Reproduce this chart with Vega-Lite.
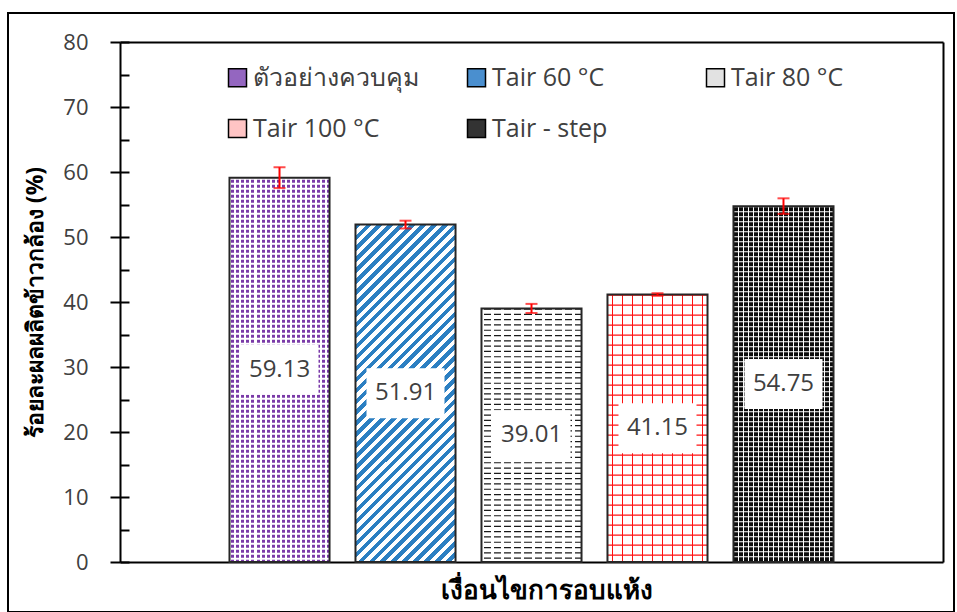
{
  "$schema": "https://vega.github.io/schema/vega-lite/v6.json",
  "width": 946,
  "height": 599,
  "autosize": {"type": "none"},
  "padding": {"left": 8, "top": 13, "right": 3, "bottom": 0},
  "background": "#ffffff",
  "config": {
    "view": {"stroke": "#000000", "strokeWidth": 2},
    "font": "Open Sans"
  },
  "data": {
    "values": [
      {"cat": "ตัวอย่างควบคุม", "v": 59.13, "e": 1.6},
      {"cat": "Tair 60 °C", "v": 51.91, "e": 0.6},
      {"cat": "Tair 80 °C", "v": 39.01, "e": 0.7},
      {"cat": "Tair 100 °C", "v": 41.15, "e": 0.2},
      {"cat": "Tair - step", "v": 54.75, "e": 1.2}
    ]
  },
  "resolve": {"scale": {"x": "independent", "y": "independent"}},
  "layer": [
    {
      "resolve": {"scale": {"fill": "independent"}},
      "encoding": {
        "x": {
          "field": "cat", "type": "nominal",
          "scale": {"domain": ["ตัวอย่างควบคุม", "Tair 60 °C", "Tair 80 °C", "Tair 100 °C", "Tair - step"], "range": [112, 935], "paddingInner": 0.206, "paddingOuter": 0.869},
          "axis": {"orient": "bottom", "offset": -50, "domain": true, "domainColor": "#000000", "domainWidth": 2, "ticks": false, "labels": false, "grid": false,
                   "title": "เงื่อนไขการอบแห้ง", "titleFontSize": 26, "titleFontWeight": "bold", "titleColor": "#000000", "titlePadding": 15, "titleX": 538}
        },
        "y": {
          "field": "v", "type": "quantitative",
          "scale": {"domain": [0, 80], "range": [549, 29]},
          "axis": {"orient": "left", "offset": -112, "values": [0, 10, 20, 30, 40, 50, 60, 70, 80],
                   "domain": true, "domainColor": "#000000", "domainWidth": 2,
                   "ticks": true, "tickSize": 10, "tickColor": "#000000", "tickWidth": 2,
                   "labelFontSize": 22, "labelColor": "#404040", "labelPadding": 22, "grid": false,
                   "title": "ร้อยละผลผลิตข้าวกล้อง (%)", "titleFontSize": 23, "titleFontWeight": "bold", "titleColor": "#000000", "titlePadding": 15}
        }
      },
      "layer": [
        {
          "mark": {"type": "bar"},
          "encoding": {
            "fill": {
              "field": "cat", "type": "nominal",
              "scale": {"domain": ["ตัวอย่างควบคุม", "Tair 60 °C", "Tair 80 °C", "Tair 100 °C", "Tair - step"], "range": ["#9466c0", "#4a8fcf", "#e2e2e2", "#ffc4c4", "#333333"]},
              "legend": {"orient": "none", "legendX": 217, "legendY": 52, "direction": "horizontal", "columns": 3, "title": null,
                         "symbolType": "square", "symbolSize": 324, "symbolStrokeColor": "#000000", "symbolStrokeWidth": 1.5, "symbolOpacity": 1,
                         "labelFontSize": 25, "labelColor": "#404040", "labelLimit": 400, "labelOffset": 3,
                         "columnPadding": 45, "rowPadding": 25, "gridAlign": "all", "padding": 0}
            }
          }
        },
        {
          "mark": {"type": "bar"},
          "encoding": {
            "fill": {
              "field": "cat", "type": "nominal",
              "scale": {"domain": ["ตัวอย่างควบคุม", "Tair 60 °C", "Tair 80 °C", "Tair 100 °C", "Tair - step"], "range": ["#7a3aa8", "#ffffff", "#ffffff", "#ffffff", "#0d0d0d"]},
              "legend": null
            }
          }
        },
        {
          "transform": [{"filter": {"field": "cat", "equal": "Tair 60 °C"}}],
          "mark": {"type": "bar", "fill": {"gradient": "linear", "x1": 0, "y1": 0, "x2": 0.3532, "y2": 1.1917, "stops": [
            {"offset": 0, "color": "#2b7fc2"}, {"offset": 0.0125, "color": "#2b7fc2"}, {"offset": 0.0125, "color": "#ffffff"}, {"offset": 0.025, "color": "#ffffff"},
            {"offset": 0.025, "color": "#2b7fc2"}, {"offset": 0.0375, "color": "#2b7fc2"}, {"offset": 0.0375, "color": "#ffffff"}, {"offset": 0.05, "color": "#ffffff"},
            {"offset": 0.05, "color": "#2b7fc2"}, {"offset": 0.0625, "color": "#2b7fc2"}, {"offset": 0.0625, "color": "#ffffff"}, {"offset": 0.075, "color": "#ffffff"},
            {"offset": 0.075, "color": "#2b7fc2"}, {"offset": 0.0875, "color": "#2b7fc2"}, {"offset": 0.0875, "color": "#ffffff"}, {"offset": 0.1, "color": "#ffffff"},
            {"offset": 0.1, "color": "#2b7fc2"}, {"offset": 0.1125, "color": "#2b7fc2"}, {"offset": 0.1125, "color": "#ffffff"}, {"offset": 0.125, "color": "#ffffff"},
            {"offset": 0.125, "color": "#2b7fc2"}, {"offset": 0.1375, "color": "#2b7fc2"}, {"offset": 0.1375, "color": "#ffffff"}, {"offset": 0.15, "color": "#ffffff"},
            {"offset": 0.15, "color": "#2b7fc2"}, {"offset": 0.1625, "color": "#2b7fc2"}, {"offset": 0.1625, "color": "#ffffff"}, {"offset": 0.175, "color": "#ffffff"},
            {"offset": 0.175, "color": "#2b7fc2"}, {"offset": 0.1875, "color": "#2b7fc2"}, {"offset": 0.1875, "color": "#ffffff"}, {"offset": 0.2, "color": "#ffffff"},
            {"offset": 0.2, "color": "#2b7fc2"}, {"offset": 0.2125, "color": "#2b7fc2"}, {"offset": 0.2125, "color": "#ffffff"}, {"offset": 0.225, "color": "#ffffff"},
            {"offset": 0.225, "color": "#2b7fc2"}, {"offset": 0.2375, "color": "#2b7fc2"}, {"offset": 0.2375, "color": "#ffffff"}, {"offset": 0.25, "color": "#ffffff"},
            {"offset": 0.25, "color": "#2b7fc2"}, {"offset": 0.2625, "color": "#2b7fc2"}, {"offset": 0.2625, "color": "#ffffff"}, {"offset": 0.275, "color": "#ffffff"},
            {"offset": 0.275, "color": "#2b7fc2"}, {"offset": 0.2875, "color": "#2b7fc2"}, {"offset": 0.2875, "color": "#ffffff"}, {"offset": 0.3, "color": "#ffffff"},
            {"offset": 0.3, "color": "#2b7fc2"}, {"offset": 0.3125, "color": "#2b7fc2"}, {"offset": 0.3125, "color": "#ffffff"}, {"offset": 0.325, "color": "#ffffff"},
            {"offset": 0.325, "color": "#2b7fc2"}, {"offset": 0.3375, "color": "#2b7fc2"}, {"offset": 0.3375, "color": "#ffffff"}, {"offset": 0.35, "color": "#ffffff"},
            {"offset": 0.35, "color": "#2b7fc2"}, {"offset": 0.3625, "color": "#2b7fc2"}, {"offset": 0.3625, "color": "#ffffff"}, {"offset": 0.375, "color": "#ffffff"},
            {"offset": 0.375, "color": "#2b7fc2"}, {"offset": 0.3875, "color": "#2b7fc2"}, {"offset": 0.3875, "color": "#ffffff"}, {"offset": 0.4, "color": "#ffffff"},
            {"offset": 0.4, "color": "#2b7fc2"}, {"offset": 0.4125, "color": "#2b7fc2"}, {"offset": 0.4125, "color": "#ffffff"}, {"offset": 0.425, "color": "#ffffff"},
            {"offset": 0.425, "color": "#2b7fc2"}, {"offset": 0.4375, "color": "#2b7fc2"}, {"offset": 0.4375, "color": "#ffffff"}, {"offset": 0.45, "color": "#ffffff"},
            {"offset": 0.45, "color": "#2b7fc2"}, {"offset": 0.4625, "color": "#2b7fc2"}, {"offset": 0.4625, "color": "#ffffff"}, {"offset": 0.475, "color": "#ffffff"},
            {"offset": 0.475, "color": "#2b7fc2"}, {"offset": 0.4875, "color": "#2b7fc2"}, {"offset": 0.4875, "color": "#ffffff"}, {"offset": 0.5, "color": "#ffffff"},
            {"offset": 0.5, "color": "#2b7fc2"}, {"offset": 0.5125, "color": "#2b7fc2"}, {"offset": 0.5125, "color": "#ffffff"}, {"offset": 0.525, "color": "#ffffff"},
            {"offset": 0.525, "color": "#2b7fc2"}, {"offset": 0.5375, "color": "#2b7fc2"}, {"offset": 0.5375, "color": "#ffffff"}, {"offset": 0.55, "color": "#ffffff"},
            {"offset": 0.55, "color": "#2b7fc2"}, {"offset": 0.5625, "color": "#2b7fc2"}, {"offset": 0.5625, "color": "#ffffff"}, {"offset": 0.575, "color": "#ffffff"},
            {"offset": 0.575, "color": "#2b7fc2"}, {"offset": 0.5875, "color": "#2b7fc2"}, {"offset": 0.5875, "color": "#ffffff"}, {"offset": 0.6, "color": "#ffffff"},
            {"offset": 0.6, "color": "#2b7fc2"}, {"offset": 0.6125, "color": "#2b7fc2"}, {"offset": 0.6125, "color": "#ffffff"}, {"offset": 0.625, "color": "#ffffff"},
            {"offset": 0.625, "color": "#2b7fc2"}, {"offset": 0.6375, "color": "#2b7fc2"}, {"offset": 0.6375, "color": "#ffffff"}, {"offset": 0.65, "color": "#ffffff"},
            {"offset": 0.65, "color": "#2b7fc2"}, {"offset": 0.6625, "color": "#2b7fc2"}, {"offset": 0.6625, "color": "#ffffff"}, {"offset": 0.675, "color": "#ffffff"},
            {"offset": 0.675, "color": "#2b7fc2"}, {"offset": 0.6875, "color": "#2b7fc2"}, {"offset": 0.6875, "color": "#ffffff"}, {"offset": 0.7, "color": "#ffffff"},
            {"offset": 0.7, "color": "#2b7fc2"}, {"offset": 0.7125, "color": "#2b7fc2"}, {"offset": 0.7125, "color": "#ffffff"}, {"offset": 0.725, "color": "#ffffff"},
            {"offset": 0.725, "color": "#2b7fc2"}, {"offset": 0.7375, "color": "#2b7fc2"}, {"offset": 0.7375, "color": "#ffffff"}, {"offset": 0.75, "color": "#ffffff"},
            {"offset": 0.75, "color": "#2b7fc2"}, {"offset": 0.7625, "color": "#2b7fc2"}, {"offset": 0.7625, "color": "#ffffff"}, {"offset": 0.775, "color": "#ffffff"},
            {"offset": 0.775, "color": "#2b7fc2"}, {"offset": 0.7875, "color": "#2b7fc2"}, {"offset": 0.7875, "color": "#ffffff"}, {"offset": 0.8, "color": "#ffffff"},
            {"offset": 0.8, "color": "#2b7fc2"}, {"offset": 0.8125, "color": "#2b7fc2"}, {"offset": 0.8125, "color": "#ffffff"}, {"offset": 0.825, "color": "#ffffff"},
            {"offset": 0.825, "color": "#2b7fc2"}, {"offset": 0.8375, "color": "#2b7fc2"}, {"offset": 0.8375, "color": "#ffffff"}, {"offset": 0.85, "color": "#ffffff"},
            {"offset": 0.85, "color": "#2b7fc2"}, {"offset": 0.8625, "color": "#2b7fc2"}, {"offset": 0.8625, "color": "#ffffff"}, {"offset": 0.875, "color": "#ffffff"},
            {"offset": 0.875, "color": "#2b7fc2"}, {"offset": 0.8875, "color": "#2b7fc2"}, {"offset": 0.8875, "color": "#ffffff"}, {"offset": 0.9, "color": "#ffffff"},
            {"offset": 0.9, "color": "#2b7fc2"}, {"offset": 0.9125, "color": "#2b7fc2"}, {"offset": 0.9125, "color": "#ffffff"}, {"offset": 0.925, "color": "#ffffff"},
            {"offset": 0.925, "color": "#2b7fc2"}, {"offset": 0.9375, "color": "#2b7fc2"}, {"offset": 0.9375, "color": "#ffffff"}, {"offset": 0.95, "color": "#ffffff"},
            {"offset": 0.95, "color": "#2b7fc2"}, {"offset": 0.9625, "color": "#2b7fc2"}, {"offset": 0.9625, "color": "#ffffff"}, {"offset": 0.975, "color": "#ffffff"},
            {"offset": 0.975, "color": "#2b7fc2"}, {"offset": 0.9875, "color": "#2b7fc2"}, {"offset": 0.9875, "color": "#ffffff"}, {"offset": 1, "color": "#ffffff"}
          ]}}
        },
        {
          "transform": [{"filter": {"field": "cat", "equal": "ตัวอย่างควบคุม"}}],
          "mark": {"type": "rule", "color": "#ffffff", "strokeWidth": 100, "strokeDash": [2, 3]},
          "encoding": {"y2": {"datum": 0}}
        },
        {
          "transform": [{"filter": {"field": "cat", "equal": "ตัวอย่างควบคุม"}}],
          "mark": {"type": "bar", "fill": {"gradient": "linear", "x1": 0, "y1": 0, "x2": 1, "y2": 0, "stops": [
            {"offset": 0, "color": "#ffffff"}, {"offset": 0.02, "color": "#ffffff"}, {"offset": 0.02, "color": "rgba(255,255,255,0)"}, {"offset": 0.05, "color": "rgba(255,255,255,0)"},
            {"offset": 0.05, "color": "#ffffff"}, {"offset": 0.07, "color": "#ffffff"}, {"offset": 0.07, "color": "rgba(255,255,255,0)"}, {"offset": 0.1, "color": "rgba(255,255,255,0)"},
            {"offset": 0.1, "color": "#ffffff"}, {"offset": 0.12, "color": "#ffffff"}, {"offset": 0.12, "color": "rgba(255,255,255,0)"}, {"offset": 0.15, "color": "rgba(255,255,255,0)"},
            {"offset": 0.15, "color": "#ffffff"}, {"offset": 0.17, "color": "#ffffff"}, {"offset": 0.17, "color": "rgba(255,255,255,0)"}, {"offset": 0.2, "color": "rgba(255,255,255,0)"},
            {"offset": 0.2, "color": "#ffffff"}, {"offset": 0.22, "color": "#ffffff"}, {"offset": 0.22, "color": "rgba(255,255,255,0)"}, {"offset": 0.25, "color": "rgba(255,255,255,0)"},
            {"offset": 0.25, "color": "#ffffff"}, {"offset": 0.27, "color": "#ffffff"}, {"offset": 0.27, "color": "rgba(255,255,255,0)"}, {"offset": 0.3, "color": "rgba(255,255,255,0)"},
            {"offset": 0.3, "color": "#ffffff"}, {"offset": 0.32, "color": "#ffffff"}, {"offset": 0.32, "color": "rgba(255,255,255,0)"}, {"offset": 0.35, "color": "rgba(255,255,255,0)"},
            {"offset": 0.35, "color": "#ffffff"}, {"offset": 0.37, "color": "#ffffff"}, {"offset": 0.37, "color": "rgba(255,255,255,0)"}, {"offset": 0.4, "color": "rgba(255,255,255,0)"},
            {"offset": 0.4, "color": "#ffffff"}, {"offset": 0.42, "color": "#ffffff"}, {"offset": 0.42, "color": "rgba(255,255,255,0)"}, {"offset": 0.45, "color": "rgba(255,255,255,0)"},
            {"offset": 0.45, "color": "#ffffff"}, {"offset": 0.47, "color": "#ffffff"}, {"offset": 0.47, "color": "rgba(255,255,255,0)"}, {"offset": 0.5, "color": "rgba(255,255,255,0)"},
            {"offset": 0.5, "color": "#ffffff"}, {"offset": 0.52, "color": "#ffffff"}, {"offset": 0.52, "color": "rgba(255,255,255,0)"}, {"offset": 0.55, "color": "rgba(255,255,255,0)"},
            {"offset": 0.55, "color": "#ffffff"}, {"offset": 0.57, "color": "#ffffff"}, {"offset": 0.57, "color": "rgba(255,255,255,0)"}, {"offset": 0.6, "color": "rgba(255,255,255,0)"},
            {"offset": 0.6, "color": "#ffffff"}, {"offset": 0.62, "color": "#ffffff"}, {"offset": 0.62, "color": "rgba(255,255,255,0)"}, {"offset": 0.65, "color": "rgba(255,255,255,0)"},
            {"offset": 0.65, "color": "#ffffff"}, {"offset": 0.67, "color": "#ffffff"}, {"offset": 0.67, "color": "rgba(255,255,255,0)"}, {"offset": 0.7, "color": "rgba(255,255,255,0)"},
            {"offset": 0.7, "color": "#ffffff"}, {"offset": 0.72, "color": "#ffffff"}, {"offset": 0.72, "color": "rgba(255,255,255,0)"}, {"offset": 0.75, "color": "rgba(255,255,255,0)"},
            {"offset": 0.75, "color": "#ffffff"}, {"offset": 0.77, "color": "#ffffff"}, {"offset": 0.77, "color": "rgba(255,255,255,0)"}, {"offset": 0.8, "color": "rgba(255,255,255,0)"},
            {"offset": 0.8, "color": "#ffffff"}, {"offset": 0.82, "color": "#ffffff"}, {"offset": 0.82, "color": "rgba(255,255,255,0)"}, {"offset": 0.85, "color": "rgba(255,255,255,0)"},
            {"offset": 0.85, "color": "#ffffff"}, {"offset": 0.87, "color": "#ffffff"}, {"offset": 0.87, "color": "rgba(255,255,255,0)"}, {"offset": 0.9, "color": "rgba(255,255,255,0)"},
            {"offset": 0.9, "color": "#ffffff"}, {"offset": 0.92, "color": "#ffffff"}, {"offset": 0.92, "color": "rgba(255,255,255,0)"}, {"offset": 0.95, "color": "rgba(255,255,255,0)"},
            {"offset": 0.95, "color": "#ffffff"}, {"offset": 0.97, "color": "#ffffff"}, {"offset": 0.97, "color": "rgba(255,255,255,0)"}, {"offset": 1, "color": "rgba(255,255,255,0)"}
          ]}}
        },
        {
          "transform": [{"filter": {"field": "cat", "equal": "Tair - step"}}],
          "mark": {"type": "rule", "color": "#ffffff", "strokeWidth": 100, "strokeDash": [1, 4]},
          "encoding": {"y2": {"datum": 0}}
        },
        {
          "transform": [{"filter": {"field": "cat", "equal": "Tair - step"}}],
          "mark": {"type": "bar", "fill": {"gradient": "linear", "x1": 0, "y1": 0, "x2": 1, "y2": 0, "stops": [
            {"offset": 0, "color": "#ffffff"}, {"offset": 0.01, "color": "#ffffff"}, {"offset": 0.01, "color": "rgba(255,255,255,0)"}, {"offset": 0.05, "color": "rgba(255,255,255,0)"},
            {"offset": 0.05, "color": "#ffffff"}, {"offset": 0.06, "color": "#ffffff"}, {"offset": 0.06, "color": "rgba(255,255,255,0)"}, {"offset": 0.1, "color": "rgba(255,255,255,0)"},
            {"offset": 0.1, "color": "#ffffff"}, {"offset": 0.11, "color": "#ffffff"}, {"offset": 0.11, "color": "rgba(255,255,255,0)"}, {"offset": 0.15, "color": "rgba(255,255,255,0)"},
            {"offset": 0.15, "color": "#ffffff"}, {"offset": 0.16, "color": "#ffffff"}, {"offset": 0.16, "color": "rgba(255,255,255,0)"}, {"offset": 0.2, "color": "rgba(255,255,255,0)"},
            {"offset": 0.2, "color": "#ffffff"}, {"offset": 0.21, "color": "#ffffff"}, {"offset": 0.21, "color": "rgba(255,255,255,0)"}, {"offset": 0.25, "color": "rgba(255,255,255,0)"},
            {"offset": 0.25, "color": "#ffffff"}, {"offset": 0.26, "color": "#ffffff"}, {"offset": 0.26, "color": "rgba(255,255,255,0)"}, {"offset": 0.3, "color": "rgba(255,255,255,0)"},
            {"offset": 0.3, "color": "#ffffff"}, {"offset": 0.31, "color": "#ffffff"}, {"offset": 0.31, "color": "rgba(255,255,255,0)"}, {"offset": 0.35, "color": "rgba(255,255,255,0)"},
            {"offset": 0.35, "color": "#ffffff"}, {"offset": 0.36, "color": "#ffffff"}, {"offset": 0.36, "color": "rgba(255,255,255,0)"}, {"offset": 0.4, "color": "rgba(255,255,255,0)"},
            {"offset": 0.4, "color": "#ffffff"}, {"offset": 0.41, "color": "#ffffff"}, {"offset": 0.41, "color": "rgba(255,255,255,0)"}, {"offset": 0.45, "color": "rgba(255,255,255,0)"},
            {"offset": 0.45, "color": "#ffffff"}, {"offset": 0.46, "color": "#ffffff"}, {"offset": 0.46, "color": "rgba(255,255,255,0)"}, {"offset": 0.5, "color": "rgba(255,255,255,0)"},
            {"offset": 0.5, "color": "#ffffff"}, {"offset": 0.51, "color": "#ffffff"}, {"offset": 0.51, "color": "rgba(255,255,255,0)"}, {"offset": 0.55, "color": "rgba(255,255,255,0)"},
            {"offset": 0.55, "color": "#ffffff"}, {"offset": 0.56, "color": "#ffffff"}, {"offset": 0.56, "color": "rgba(255,255,255,0)"}, {"offset": 0.6, "color": "rgba(255,255,255,0)"},
            {"offset": 0.6, "color": "#ffffff"}, {"offset": 0.61, "color": "#ffffff"}, {"offset": 0.61, "color": "rgba(255,255,255,0)"}, {"offset": 0.65, "color": "rgba(255,255,255,0)"},
            {"offset": 0.65, "color": "#ffffff"}, {"offset": 0.66, "color": "#ffffff"}, {"offset": 0.66, "color": "rgba(255,255,255,0)"}, {"offset": 0.7, "color": "rgba(255,255,255,0)"},
            {"offset": 0.7, "color": "#ffffff"}, {"offset": 0.71, "color": "#ffffff"}, {"offset": 0.71, "color": "rgba(255,255,255,0)"}, {"offset": 0.75, "color": "rgba(255,255,255,0)"},
            {"offset": 0.75, "color": "#ffffff"}, {"offset": 0.76, "color": "#ffffff"}, {"offset": 0.76, "color": "rgba(255,255,255,0)"}, {"offset": 0.8, "color": "rgba(255,255,255,0)"},
            {"offset": 0.8, "color": "#ffffff"}, {"offset": 0.81, "color": "#ffffff"}, {"offset": 0.81, "color": "rgba(255,255,255,0)"}, {"offset": 0.85, "color": "rgba(255,255,255,0)"},
            {"offset": 0.85, "color": "#ffffff"}, {"offset": 0.86, "color": "#ffffff"}, {"offset": 0.86, "color": "rgba(255,255,255,0)"}, {"offset": 0.9, "color": "rgba(255,255,255,0)"},
            {"offset": 0.9, "color": "#ffffff"}, {"offset": 0.91, "color": "#ffffff"}, {"offset": 0.91, "color": "rgba(255,255,255,0)"}, {"offset": 0.95, "color": "rgba(255,255,255,0)"},
            {"offset": 0.95, "color": "#ffffff"}, {"offset": 0.96, "color": "#ffffff"}, {"offset": 0.96, "color": "rgba(255,255,255,0)"}, {"offset": 1, "color": "rgba(255,255,255,0)"}
          ]}}
        },
        {
          "transform": [{"filter": {"field": "cat", "equal": "Tair 80 °C"}}],
          "mark": {"type": "rule", "color": "#1a1a1a", "strokeWidth": 100, "strokeDash": [1.2, 4.1]},
          "encoding": {"y2": {"datum": 0}}
        },
        {
          "transform": [{"filter": {"field": "cat", "equal": "Tair 80 °C"}}],
          "mark": {"type": "bar", "fill": {"gradient": "linear", "x1": 0, "y1": 0, "x2": 1, "y2": 0, "stops": [
            {"offset": 0, "color": "#ffffff"}, {"offset": 0.03, "color": "#ffffff"}, {"offset": 0.03, "color": "rgba(255,255,255,0)"}, {"offset": 0.1, "color": "rgba(255,255,255,0)"},
            {"offset": 0.1, "color": "#ffffff"}, {"offset": 0.13, "color": "#ffffff"}, {"offset": 0.13, "color": "rgba(255,255,255,0)"}, {"offset": 0.2, "color": "rgba(255,255,255,0)"},
            {"offset": 0.2, "color": "#ffffff"}, {"offset": 0.23, "color": "#ffffff"}, {"offset": 0.23, "color": "rgba(255,255,255,0)"}, {"offset": 0.3, "color": "rgba(255,255,255,0)"},
            {"offset": 0.3, "color": "#ffffff"}, {"offset": 0.33, "color": "#ffffff"}, {"offset": 0.33, "color": "rgba(255,255,255,0)"}, {"offset": 0.4, "color": "rgba(255,255,255,0)"},
            {"offset": 0.4, "color": "#ffffff"}, {"offset": 0.43, "color": "#ffffff"}, {"offset": 0.43, "color": "rgba(255,255,255,0)"}, {"offset": 0.5, "color": "rgba(255,255,255,0)"},
            {"offset": 0.5, "color": "#ffffff"}, {"offset": 0.53, "color": "#ffffff"}, {"offset": 0.53, "color": "rgba(255,255,255,0)"}, {"offset": 0.6, "color": "rgba(255,255,255,0)"},
            {"offset": 0.6, "color": "#ffffff"}, {"offset": 0.63, "color": "#ffffff"}, {"offset": 0.63, "color": "rgba(255,255,255,0)"}, {"offset": 0.7, "color": "rgba(255,255,255,0)"},
            {"offset": 0.7, "color": "#ffffff"}, {"offset": 0.73, "color": "#ffffff"}, {"offset": 0.73, "color": "rgba(255,255,255,0)"}, {"offset": 0.8, "color": "rgba(255,255,255,0)"},
            {"offset": 0.8, "color": "#ffffff"}, {"offset": 0.83, "color": "#ffffff"}, {"offset": 0.83, "color": "rgba(255,255,255,0)"}, {"offset": 0.9, "color": "rgba(255,255,255,0)"},
            {"offset": 0.9, "color": "#ffffff"}, {"offset": 0.93, "color": "#ffffff"}, {"offset": 0.93, "color": "rgba(255,255,255,0)"}, {"offset": 1, "color": "rgba(255,255,255,0)"}
          ]}}
        },
        {
          "transform": [{"filter": {"field": "cat", "equal": "Tair 100 °C"}}],
          "mark": {"type": "rule", "color": "#ff1010", "strokeWidth": 100, "strokeDash": [1.2, 8.8]},
          "encoding": {"y2": {"datum": 0}}
        },
        {
          "transform": [{"filter": {"field": "cat", "equal": "Tair 100 °C"}}],
          "mark": {"type": "bar", "fill": {"gradient": "linear", "x1": 0, "y1": 0, "x2": 1, "y2": 0, "stops": [
            {"offset": 0, "color": "rgba(255,0,0,0)"},
            {"offset": 0.045, "color": "rgba(255,0,0,0)"}, {"offset": 0.045, "color": "#ff1010"}, {"offset": 0.057, "color": "#ff1010"}, {"offset": 0.057, "color": "rgba(255,0,0,0)"},
            {"offset": 0.145, "color": "rgba(255,0,0,0)"}, {"offset": 0.145, "color": "#ff1010"}, {"offset": 0.157, "color": "#ff1010"}, {"offset": 0.157, "color": "rgba(255,0,0,0)"},
            {"offset": 0.245, "color": "rgba(255,0,0,0)"}, {"offset": 0.245, "color": "#ff1010"}, {"offset": 0.257, "color": "#ff1010"}, {"offset": 0.257, "color": "rgba(255,0,0,0)"},
            {"offset": 0.345, "color": "rgba(255,0,0,0)"}, {"offset": 0.345, "color": "#ff1010"}, {"offset": 0.357, "color": "#ff1010"}, {"offset": 0.357, "color": "rgba(255,0,0,0)"},
            {"offset": 0.445, "color": "rgba(255,0,0,0)"}, {"offset": 0.445, "color": "#ff1010"}, {"offset": 0.457, "color": "#ff1010"}, {"offset": 0.457, "color": "rgba(255,0,0,0)"},
            {"offset": 0.545, "color": "rgba(255,0,0,0)"}, {"offset": 0.545, "color": "#ff1010"}, {"offset": 0.557, "color": "#ff1010"}, {"offset": 0.557, "color": "rgba(255,0,0,0)"},
            {"offset": 0.645, "color": "rgba(255,0,0,0)"}, {"offset": 0.645, "color": "#ff1010"}, {"offset": 0.657, "color": "#ff1010"}, {"offset": 0.657, "color": "rgba(255,0,0,0)"},
            {"offset": 0.745, "color": "rgba(255,0,0,0)"}, {"offset": 0.745, "color": "#ff1010"}, {"offset": 0.757, "color": "#ff1010"}, {"offset": 0.757, "color": "rgba(255,0,0,0)"},
            {"offset": 0.845, "color": "rgba(255,0,0,0)"}, {"offset": 0.845, "color": "#ff1010"}, {"offset": 0.857, "color": "#ff1010"}, {"offset": 0.857, "color": "rgba(255,0,0,0)"},
            {"offset": 0.945, "color": "rgba(255,0,0,0)"}, {"offset": 0.945, "color": "#ff1010"}, {"offset": 0.957, "color": "#ff1010"}, {"offset": 0.957, "color": "rgba(255,0,0,0)"},
            {"offset": 1, "color": "rgba(255,0,0,0)"}
          ]}}
        },
        {
          "mark": {"type": "bar", "fillOpacity": 0, "stroke": "#262626", "strokeWidth": 2}
        }
      ]
    },
    {
      "encoding": {
        "x": {
          "field": "cat", "type": "nominal",
          "scale": {"domain": ["ตัวอย่างควบคุม", "Tair 60 °C", "Tair 80 °C", "Tair 100 °C", "Tair - step"], "range": [112, 935], "paddingInner": 0.206, "paddingOuter": 0.869},
          "axis": null
        },
        "y": {
          "field": "v", "type": "quantitative",
          "scale": {"domain": [0, 160], "range": [549, 29]},
          "axis": {"orient": "right", "offset": -11, "domain": true, "domainColor": "#000000", "domainWidth": 2, "ticks": false, "labels": false, "grid": false, "title": null}
        }
      },
      "layer": [
        {
          "mark": {"type": "bar", "fill": "#ffffff", "width": 78, "yOffset": -25, "y2Offset": 25},
          "encoding": {"y2": {"field": "v"}}
        },
        {
          "mark": {"type": "text", "fontSize": 24, "color": "#404040", "baseline": "middle", "align": "center"},
          "encoding": {"text": {"field": "v", "type": "quantitative", "format": ".2f"}}
        }
      ]
    },
    {
      "mark": {"type": "errorbar", "ticks": {"size": 12}, "color": "#ff0000", "thickness": 2},
      "encoding": {
        "x": {
          "field": "cat", "type": "nominal",
          "scale": {"domain": ["ตัวอย่างควบคุม", "Tair 60 °C", "Tair 80 °C", "Tair 100 °C", "Tair - step"], "range": [112, 935], "paddingInner": 0.206, "paddingOuter": 0.869},
          "axis": {"orient": "top", "offset": -29, "domain": true, "domainColor": "#000000", "domainWidth": 2, "ticks": false, "labels": false, "grid": false, "title": null}
        },
        "y": {
          "field": "v", "type": "quantitative",
          "scale": {"domain": [0, 80], "range": [549, 29]},
          "axis": {"orient": "left", "offset": -112, "values": [0, 5, 10, 15, 20, 25, 30, 35, 40, 45, 50, 55, 60, 65, 70, 75, 80],
                   "domain": false, "labels": false, "ticks": true, "tickSize": -9, "tickColor": "#000000", "tickWidth": 2, "grid": false, "title": null}
        },
        "yError": {"field": "e"}
      }
    }
  ]
}
